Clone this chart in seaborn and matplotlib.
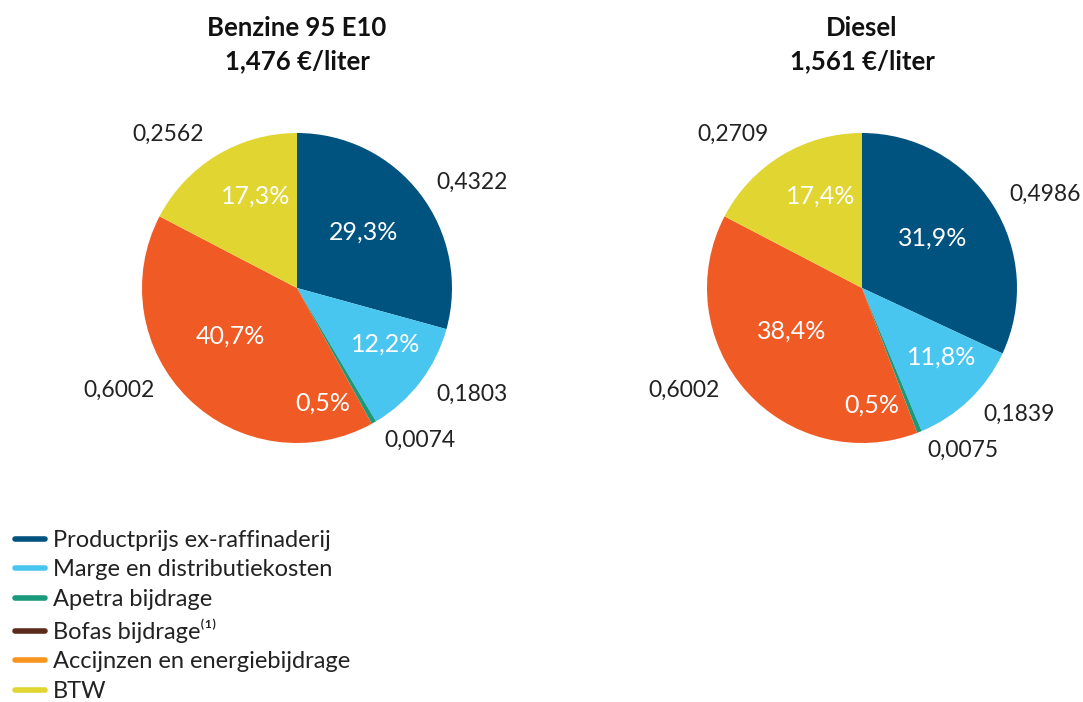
import numpy as np
import matplotlib
matplotlib.use("Agg")
import matplotlib.pyplot as plt
from matplotlib.lines import Line2D
import seaborn as sns

# data
components = ["Productprijs ex-raffinaderij", "Marge en distributiekosten",
              "Apetra bijdrage", "Bofas bijdrage⁽¹⁾",
              "Accijnzen en energiebijdrage", "BTW"]
benzine = [0.4322, 0.1803, 0.0074, 0.0, 0.6002, 0.2562]
diesel = [0.4986, 0.1839, 0.0075, 0.0, 0.6002, 0.2709]
titles = ["Benzine 95 E10\n1,476 €/liter", "Diesel\n1,561 €/liter"]

pie_colors = ["#00527f", "#48c6ef", "#1a9a7d", "#5c2a1a", "#f05a24", "#e0d531"]
legend_colors = ["#00527f", "#48c6ef", "#1a9a7d", "#5c2a1a", "#f7941d", "#e0d531"]

# where the labels sit inside/outside each slice (angle offset in degrees, radius)
pct_offset = [3, 5, -17, -10, -7]
pct_radius = [0.56, 0.68, 0.76, 0.53, 0.65]
lbl_radius = [1.13, 1.13, 1.13, 1.13, 1.16]

sns.set_theme(style="white")
plt.rcParams["font.family"] = ["Lato", "DejaVu Sans"]

W, H = 1083, 702
fig = plt.figure(figsize=(W / 100, H / 100), dpi=100)

R = 155  # pie radius in pixels
half = 1.5


def rounded_pcts(vals):
    # percentages to one decimal that add up to 100 (largest remainder)
    p = np.array(vals) / sum(vals) * 1000
    base = np.floor(p)
    rest = int(round(1000 - base.sum()))
    order = np.argsort(-(p - base), kind="stable")
    base[order[:rest]] += 1
    return base / 10


def draw_pie(cx, cy, values, title, lbl_offset):
    size = 2 * half * R
    ax = fig.add_axes([(cx - size / 2) / W, (H - cy - size / 2) / H, size / W, size / H])
    vals = [v for v in values if v > 0]
    cols = [c for v, c in zip(values, pie_colors) if v > 0]
    labels = [f"{v:.4f}".replace(".", ",") for v in vals]
    wedges, texts, autotexts = ax.pie(
        vals, colors=cols, startangle=90, counterclock=False,
        labels=labels, labeldistance=1.13, autopct="%1.1f%%",
        wedgeprops=dict(linewidth=0),
        textprops=dict(fontsize=16.5, color="#222222"))
    pcts = rounded_pcts(vals)
    for i, w in enumerate(wedges):
        mid = (w.theta1 + w.theta2) / 2
        a = np.deg2rad(mid + pct_offset[i])
        autotexts[i].set_position((pct_radius[i] * np.cos(a), pct_radius[i] * np.sin(a)))
        autotexts[i].set_text(f"{pcts[i]:.1f}%".replace(".", ","))
        autotexts[i].set_color("white")
        autotexts[i].set_fontsize(18)
        b = np.deg2rad(mid + lbl_offset[i])
        texts[i].set_position((lbl_radius[i] * np.cos(b), lbl_radius[i] * np.sin(b)))
    ax.set_xlim(-half, half)
    ax.set_ylim(-half, half)
    ax.set_aspect("equal")
    ax.axis("off")
    fig.text(cx / W, 1 - 16 / H, title, ha="center", va="top",
             fontsize=18.5, fontweight="bold", color="#111111", linespacing=1.45)


draw_pie(297, 288, benzine, titles[0], [0, 0, 0, -10, 0])
draw_pie(862, 288, diesel, titles[1], [0, 0, 0, -6, 0])

handles = [Line2D([0], [0], color=c, lw=4, solid_capstyle="round") for c in legend_colors]
fig.legend(handles, components, loc="upper left", bbox_to_anchor=(0.014, 1 - 530 / H),
           frameon=False, fontsize=17, handlelength=1.25, handletextpad=0.35,
           labelspacing=0.36, borderpad=0, borderaxespad=0, labelcolor="#222222")

fig.savefig("out.png", dpi=100)
